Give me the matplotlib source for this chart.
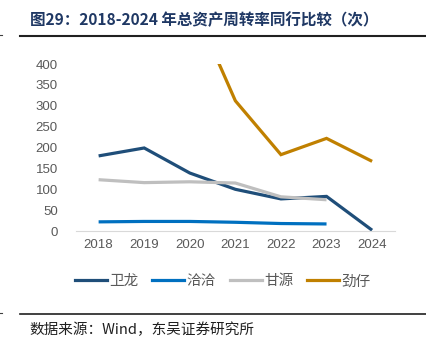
import matplotlib.pyplot as plt
from matplotlib.lines import Line2D

plt.rcParams['font.family'] = ['Noto Sans CJK SC', 'DejaVu Sans']

years = ['2018', '2019', '2020', '2021', '2022', '2023', '2024']
weilong = [180, 199, 139, 100, 77, 83, 2]
qiaqia = [22, 23, 23, 21, 18, 17, None]
ganyuan = [123, 116, 118, 115, 82, 75, None]
jinzai = [None, None, 560, 312, 183, 222, 167]

names = ['卫龙', '洽洽', '甘源', '劲仔']
colors = ['#1F4E79', '#0070C0', '#BFBFBF', '#C08000']
series = [weilong, qiaqia, ganyuan, jinzai]

fig = plt.figure(figsize=(4.26, 3.56), dpi=100)
ax = fig.add_axes([0.178, 0.351, 0.749, 0.469])

x = list(range(len(years)))
for vals, c in zip(series, colors):
    pts = [(i, v) for i, v in zip(x, vals) if v is not None]
    ax.plot([p[0] for p in pts], [p[1] for p in pts], color=c, lw=2.3,
            solid_joinstyle='miter', solid_capstyle='butt')

ax.set_xlim(-0.5, 6.5)
ax.set_ylim(0, 400)
ax.set_yticks(range(0, 401, 50))
ax.set_xticks(x)
ax.set_xticklabels(years)
for s in ['top', 'right', 'left']:
    ax.spines[s].set_visible(False)
ax.spines['bottom'].set_color('#D9D9D9')
ax.tick_params(length=0, colors='#595959', labelsize=9.5, pad=6)
ax.tick_params(axis='y', pad=13)
for lab in ax.get_xticklabels() + ax.get_yticklabels():
    lab.set_family('Liberation Sans')

handles = [Line2D([], [], color=c, lw=2.3) for c in colors]
fig.legend(handles, names, loc='center', bbox_to_anchor=(0.523, 0.21), ncol=4,
           frameon=False, handlelength=2.2, handletextpad=0.15, columnspacing=0.95,
           prop={'size': 10.5}, labelcolor='#595959')

# title and footer rules
fig.add_artist(Line2D([0.047, 1.0], [0.899, 0.899], color='#202020', lw=1.5))
fig.add_artist(Line2D([0.047, 1.0], [0.118, 0.118], color='#202020', lw=1.2))
fig.add_artist(Line2D([0.0, 0.005], [0.902, 0.902], color='#404040', lw=0.8))
fig.add_artist(Line2D([0.0, 0.005], [0.121, 0.121], color='#404040', lw=0.8))

fig.text(0.07, 0.943, '图29：2018-2024 年总资产周转率同行比较（次）', fontsize=11.2,
         fontweight='bold', color='#1F3864', va='center', ha='left')
fig.text(0.07, 0.073, '数据来源：Wind，东吴证券研究所', fontsize=10.5,
         color='#202020', va='center', ha='left')

fig.savefig('out.png', dpi=100)
